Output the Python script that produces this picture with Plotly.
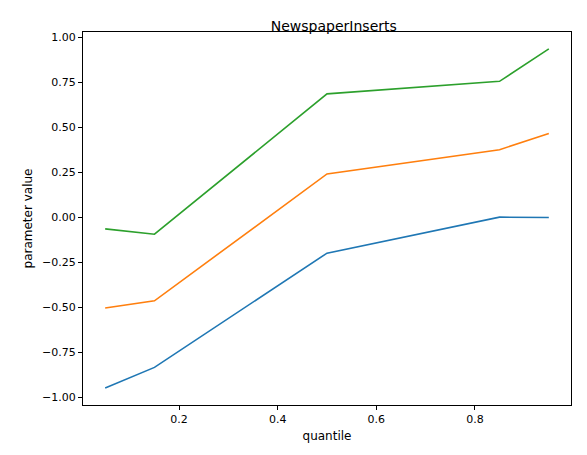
import plotly.graph_objects as go

quantiles = [0.05, 0.15, 0.5, 0.85, 0.95]
lower = [-0.95, -0.835, -0.20, 0.0, -0.002]
middle = [-0.505, -0.465, 0.24, 0.375, 0.465]
upper = [-0.065, -0.095, 0.685, 0.755, 0.935]

colors = ["#1f77b4", "#ff7f0e", "#2ca02c"]

fig = go.Figure()
for ys, c in zip([lower, middle, upper], colors):
    fig.add_trace(go.Scatter(x=quantiles, y=ys, mode="lines",
                             line=dict(color=c, width=1.6)))

axis = dict(showgrid=False, zeroline=False, showline=True, mirror=True,
            linecolor="black", linewidth=1, ticks="outside", ticklen=4,
            tickcolor="black", tickfont=dict(size=11, color="black"))
fig.update_xaxes(axis, range=[0.005, 0.995], tickvals=[0.2, 0.4, 0.6, 0.8],
                 ticktext=["0.2", "0.4", "0.6", "0.8"],
                 title=dict(text="quantile", font=dict(size=12, color="black"), standoff=6))
fig.update_yaxes(axis, range=[-1.044, 1.029],
                 tickvals=[-1, -0.75, -0.5, -0.25, 0, 0.25, 0.5, 0.75, 1],
                 ticktext=["−1.00", "−0.75", "−0.50", "−0.25", "0.00", "0.25", "0.50", "0.75", "1.00"],
                 title=dict(text="parameter value", font=dict(size=12, color="black"), standoff=6))
fig.update_layout(
    width=587, height=455, showlegend=False,
    paper_bgcolor="white", plot_bgcolor="white",
    font=dict(family="DejaVu Sans"),
    margin=dict(l=75, r=24, t=24, b=58),
    title=dict(text="NewspaperInserts", x=0.555, xanchor="center",
               yref="container", y=0.96, yanchor="middle",
               font=dict(size=14, color="black")),
)
fig.write_html("out.html")
